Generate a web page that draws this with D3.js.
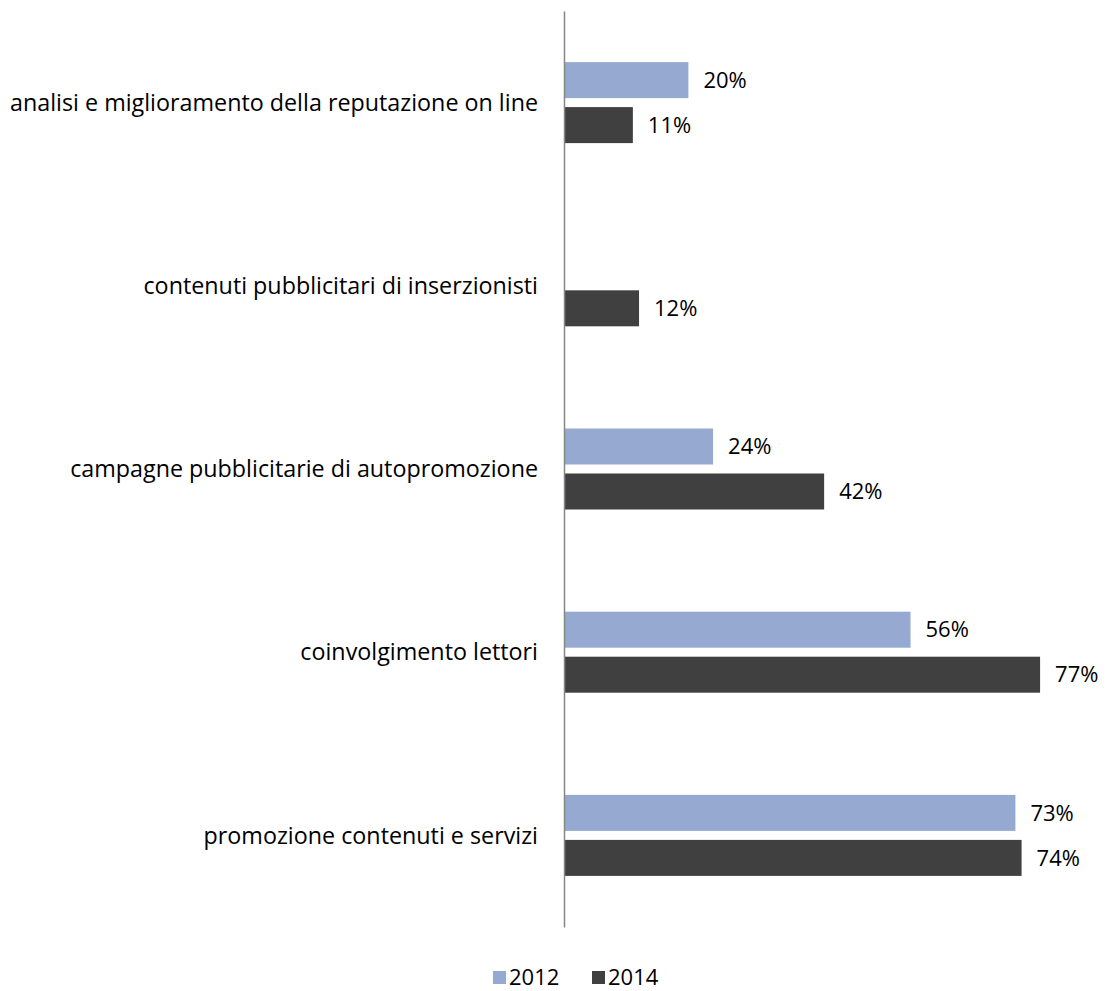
<!DOCTYPE html>
<html>
<head>
<meta charset="utf-8">
<script src="https://cdn.jsdelivr.net/npm/d3@7"></script>
<style>
  html, body { margin: 0; padding: 0; background: #fff; }
  svg { display: block; }
  text { font-family: "Open Sans", "Liberation Sans", Arial, sans-serif; fill: #000; }
</style>
</head>
<body>
<svg id="chart" width="1107" height="991"></svg>
<script>
const categories = [
  "analisi e miglioramento della reputazione on line",
  "contenuti pubblicitari di inserzionisti",
  "campagne pubblicitarie di autopromozione",
  "coinvolgimento lettori",
  "promozione contenuti e servizi"
];
const seriesNames = ["2012", "2014"];
const values2012 = [20, null, 24, 56, 73];
const values2014 = [11, 12, 42, 77, 74];
const colors = ["#95A9D1", "#404040"];

const FONT = '"Open Sans", "Liberation Sans", Arial, sans-serif';
const FS_CAT = "23.3px";
const FS_LBL = "22px";

const svg = d3.select("#chart");
const axisX = 564;
const x = d3.scaleLinear().domain([0, 80]).range([axisX + 1, axisX + 1 + 80 * 6.17]);
const y = d3.scaleBand().domain(categories).range([11, 927]).paddingInner(0).paddingOuter(0);
const bw = y.bandwidth();
const inner = d3.scaleBand().domain(seriesNames)
  .range([(bw - 81) / 2, (bw + 81) / 2]).paddingInner(0.2).paddingOuter(0);

const seriesData = [values2012, values2014];
const fmt = v => d3.format(".0f")(v) + "%";

seriesData.forEach((vals, si) => {
  const g = svg.append("g");
  const rows = categories.map((c, i) => ({ c, v: vals[i] })).filter(d => d.v != null);
  g.selectAll("rect").data(rows).join("rect")
    .attr("x", x(0))
    .attr("y", d => y(d.c) + inner(seriesNames[si]))
    .attr("width", d => x(d.v) - x(0))
    .attr("height", inner.bandwidth())
    .attr("fill", colors[si]);
  g.selectAll("text").data(rows).join("text")
    .attr("x", d => x(d.v) + 15)
    .attr("y", d => y(d.c) + inner(seriesNames[si]) + inner.bandwidth() / 2)
    .attr("dy", "0.35em")
    .style("font-family", FONT)
    .style("font-size", FS_LBL)
    .text(d => fmt(d.v));
});

// category axis (no ticks)
const yAxis = d3.axisLeft(y).tickSize(0).tickPadding(26);
const ag = svg.append("g").attr("transform", `translate(${axisX},0)`).call(yAxis);
ag.select(".domain").attr("stroke", "#868686").attr("stroke-width", 1.5);
ag.selectAll(".tick text")
  .style("font-family", FONT)
  .style("font-size", FS_CAT)
  .attr("fill", "#000")
  .attr("dy", "0.35em");

// legend
const legendX = [493, 592];
const lg = svg.append("g");
seriesNames.forEach((s, i) => {
  lg.append("rect").attr("x", legendX[i]).attr("y", 971).attr("width", 13).attr("height", 13).attr("fill", colors[i]);
  lg.append("text").attr("x", legendX[i] + 16).attr("y", 977.5).attr("dy", "0.35em")
    .style("font-family", FONT).style("font-size", FS_LBL).text(s);
});
</script>
</body>
</html>
